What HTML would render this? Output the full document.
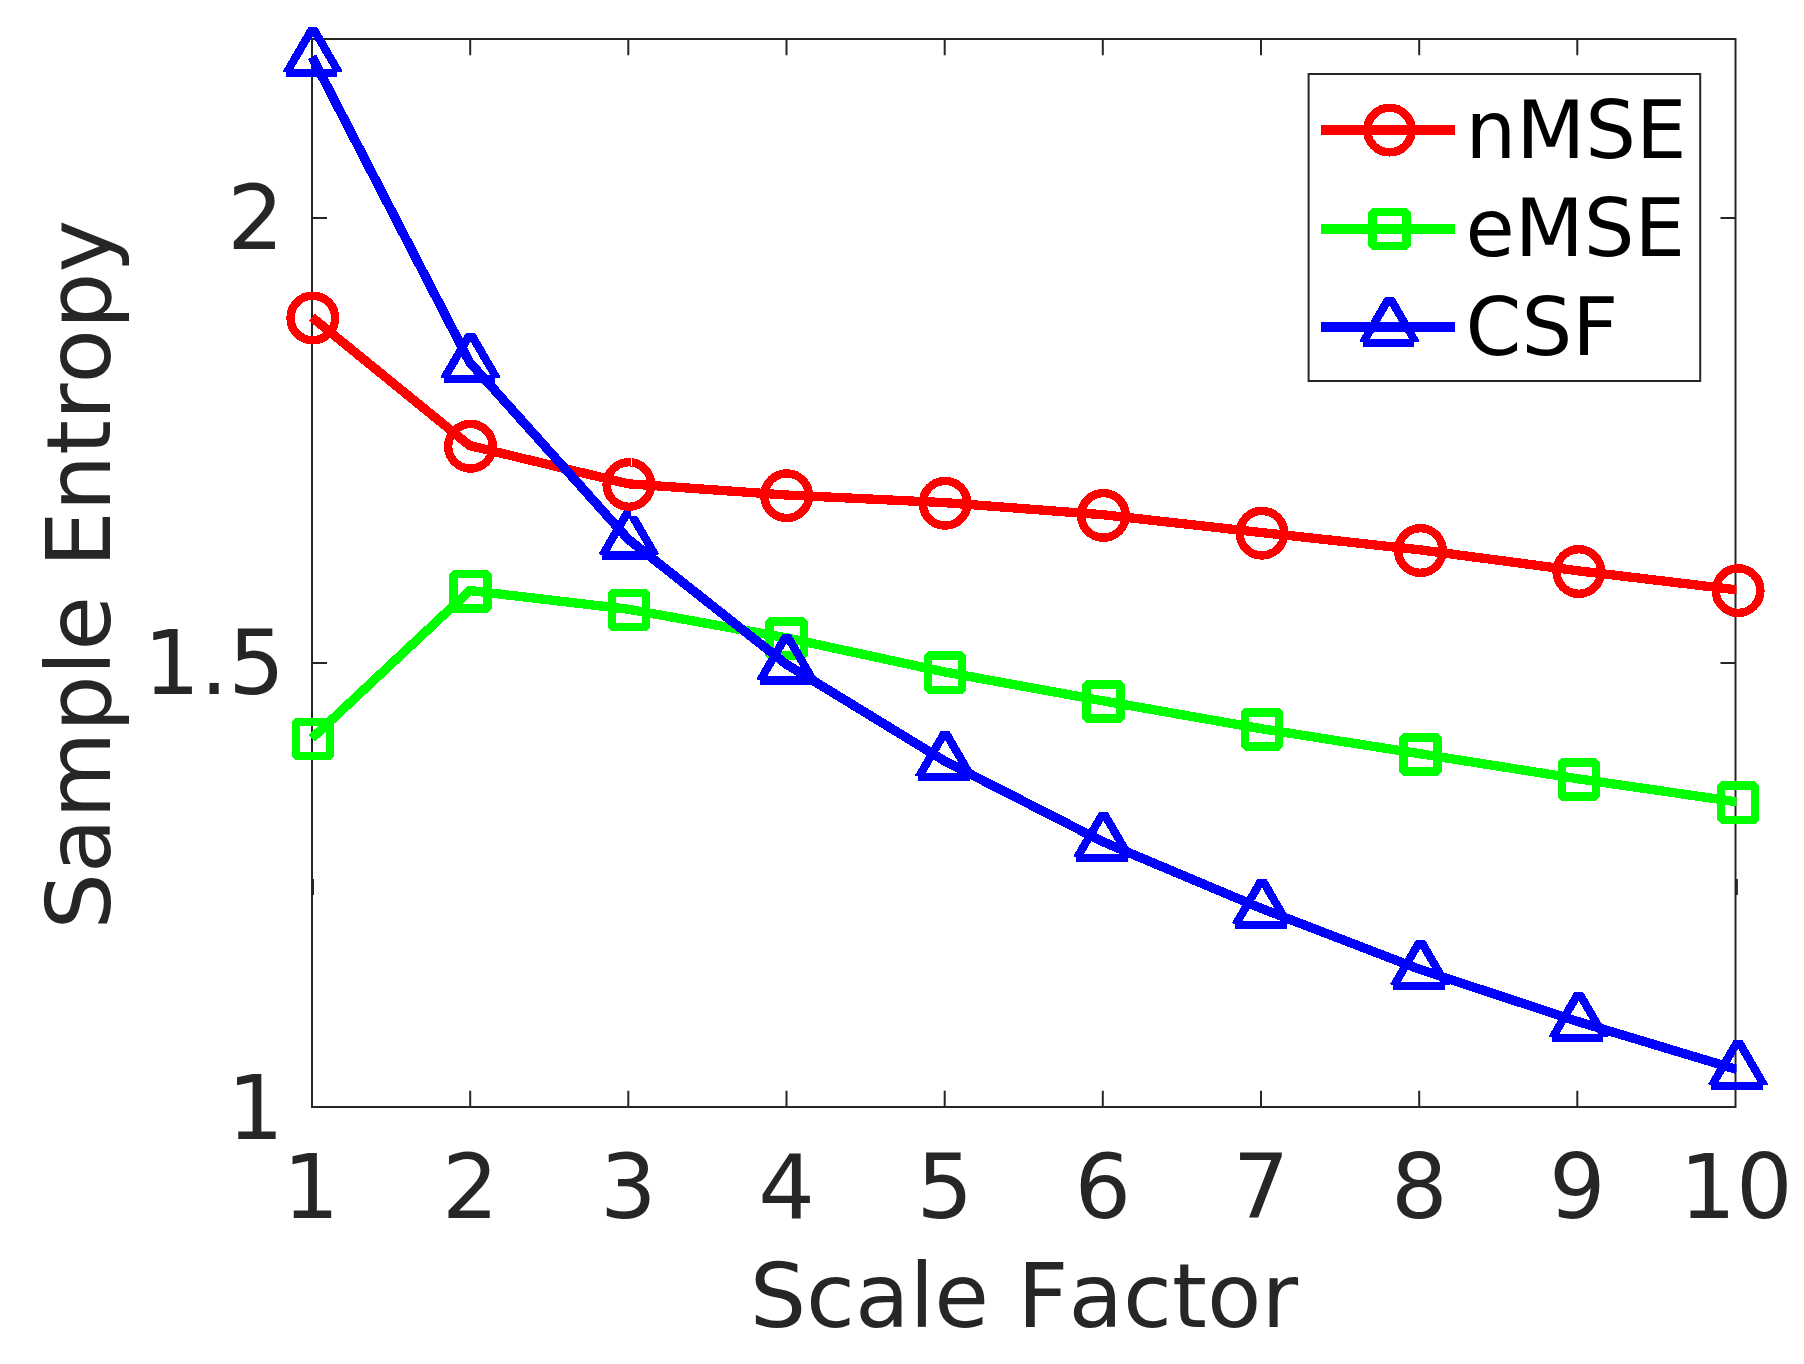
<!DOCTYPE html>
<html lang="en"><head><meta charset="utf-8"><title>Sample Entropy vs Scale Factor</title>
<style>
html,body{margin:0;padding:0;background:#fff;}
body{width:1804px;height:1364px;overflow:hidden;}
svg{display:block;}
text{font-family:"DejaVu Sans","Liberation Sans",sans-serif;font-kerning:none;}
.tk{font-size:89px;fill:#262626;}
.lb{font-size:89px;fill:#262626;}
.lg{font-size:80px;fill:#000;}
</style></head><body>
<svg width="1804" height="1364" viewBox="0 0 1804 1364">
<rect x="0" y="0" width="1804" height="1364" fill="#fff"/>
<g stroke="#262626" stroke-width="2" fill="none" stroke-linecap="butt">
<rect x="312.0" y="39.0" width="1423.5" height="1068.0"/>
<path d="M470.2 1107.0 v-16.2 M470.2 39.0 v16.2"/>
<path d="M628.3 1107.0 v-16.2 M628.3 39.0 v16.2"/>
<path d="M786.5 1107.0 v-16.2 M786.5 39.0 v16.2"/>
<path d="M944.7 1107.0 v-16.2 M944.7 39.0 v16.2"/>
<path d="M1102.8 1107.0 v-16.2 M1102.8 39.0 v16.2"/>
<path d="M1261.0 1107.0 v-16.2 M1261.0 39.0 v16.2"/>
<path d="M1419.2 1107.0 v-16.2 M1419.2 39.0 v16.2"/>
<path d="M1577.3 1107.0 v-16.2 M1577.3 39.0 v16.2"/>
<path d="M312.0 663.0 h15 M1735.5 663.0 h-15"/>
<path d="M312.0 218.0 h15 M1735.5 218.0 h-15"/>
</g>
<rect x="312" y="879" width="2" height="16" fill="#262626"/><rect x="1736" y="879" width="1.9" height="16" fill="#262626"/>
<defs><clipPath id="cp"><rect x="292.0" y="-1.0" width="1444.5" height="1108.0"/></clipPath></defs>
<g shape-rendering="crispEdges">
<polyline clip-path="url(#cp)" points="312.0,317.3 469.7,445.6 628.1,483.8 785.9,495.0 944.3,502.6 1102.6,514.7 1261.2,532.5 1419.6,549.8 1578.0,570.8 1737.3,589.9" fill="none" stroke="#ff0000" stroke-width="9.3" stroke-linejoin="round" stroke-linecap="butt"/>
<g><circle cx="312.8" cy="318.0" r="22.3" fill="none" stroke="#ff0000" stroke-width="8.4"/><circle cx="470.5" cy="446.3" r="22.3" fill="none" stroke="#ff0000" stroke-width="8.4"/><circle cx="628.9" cy="484.5" r="22.3" fill="none" stroke="#ff0000" stroke-width="8.4"/><circle cx="786.7" cy="495.7" r="22.3" fill="none" stroke="#ff0000" stroke-width="8.4"/><circle cx="945.1" cy="503.3" r="22.3" fill="none" stroke="#ff0000" stroke-width="8.4"/><circle cx="1103.4" cy="515.4" r="22.3" fill="none" stroke="#ff0000" stroke-width="8.4"/><circle cx="1262.0" cy="533.2" r="22.3" fill="none" stroke="#ff0000" stroke-width="8.4"/><circle cx="1420.4" cy="550.5" r="22.3" fill="none" stroke="#ff0000" stroke-width="8.4"/><circle cx="1578.8" cy="571.5" r="22.3" fill="none" stroke="#ff0000" stroke-width="8.4"/><circle cx="1738.1" cy="590.6" r="22.3" fill="none" stroke="#ff0000" stroke-width="8.4"/></g>
<polyline clip-path="url(#cp)" points="312.0,738.2 469.7,590.5 628.1,609.2 785.9,637.7 944.3,671.9 1102.6,700.8 1261.2,728.7 1419.6,753.7 1578.0,778.8 1737.3,801.9" fill="none" stroke="#00ff00" stroke-width="9.3" stroke-linejoin="round" stroke-linecap="butt"/>
<g><rect x="295.7" y="721.8" width="34.2" height="34.2" fill="none" stroke="#00ff00" stroke-width="8.4" stroke-linejoin="bevel"/><rect x="453.4" y="574.1" width="34.2" height="34.2" fill="none" stroke="#00ff00" stroke-width="8.4" stroke-linejoin="bevel"/><rect x="611.8" y="592.8" width="34.2" height="34.2" fill="none" stroke="#00ff00" stroke-width="8.4" stroke-linejoin="bevel"/><rect x="769.6" y="621.3" width="34.2" height="34.2" fill="none" stroke="#00ff00" stroke-width="8.4" stroke-linejoin="bevel"/><rect x="928.0" y="655.5" width="34.2" height="34.2" fill="none" stroke="#00ff00" stroke-width="8.4" stroke-linejoin="bevel"/><rect x="1086.3" y="684.4" width="34.2" height="34.2" fill="none" stroke="#00ff00" stroke-width="8.4" stroke-linejoin="bevel"/><rect x="1244.9" y="712.3" width="34.2" height="34.2" fill="none" stroke="#00ff00" stroke-width="8.4" stroke-linejoin="bevel"/><rect x="1403.3" y="737.3" width="34.2" height="34.2" fill="none" stroke="#00ff00" stroke-width="8.4" stroke-linejoin="bevel"/><rect x="1561.7" y="762.4" width="34.2" height="34.2" fill="none" stroke="#00ff00" stroke-width="8.4" stroke-linejoin="bevel"/><rect x="1721.0" y="785.5" width="34.2" height="34.2" fill="none" stroke="#00ff00" stroke-width="8.4" stroke-linejoin="bevel"/></g>
<polyline clip-path="url(#cp)" points="312.0,56.8 469.7,362.3 628.1,539.1 785.9,664.0 944.3,760.8 1102.6,841.6 1261.2,908.4 1419.6,969.3 1578.0,1021.6 1737.3,1069.6" fill="none" stroke="#0000ff" stroke-width="9.3" stroke-linejoin="round" stroke-linecap="butt"/>
<g><path d="M308.4 27.2 L317.2 27.2 L342.7 71.0 L342.1 72.3 L337.4 72.3 L337.4 77.4 L285.8 77.4 L285.8 72.3 L283.5 72.3 L282.9 71.0 Z M312.8 36.0 L332.2 69.0 L293.4 69.0 Z" fill="#0000ff" fill-rule="evenodd"/><path d="M466.1 332.7 L474.9 332.7 L500.4 376.5 L499.8 377.8 L495.1 377.8 L495.1 382.9 L443.5 382.9 L443.5 377.8 L441.2 377.8 L440.6 376.5 Z M470.5 341.5 L489.9 374.5 L451.1 374.5 Z" fill="#0000ff" fill-rule="evenodd"/><path d="M624.4 509.5 L633.4 509.5 L658.8 553.3 L658.2 554.6 L653.5 554.6 L653.5 559.7 L601.9 559.7 L601.9 554.6 L599.6 554.6 L599.0 553.3 Z M628.9 518.3 L648.3 551.3 L609.5 551.3 Z" fill="#0000ff" fill-rule="evenodd"/><path d="M782.2 634.4 L791.2 634.4 L816.6 678.2 L816.0 679.5 L811.3 679.5 L811.3 684.6 L759.7 684.6 L759.7 679.5 L757.4 679.5 L756.8 678.2 Z M786.7 643.2 L806.1 676.2 L767.3 676.2 Z" fill="#0000ff" fill-rule="evenodd"/><path d="M940.6 731.2 L949.6 731.2 L975.0 775.0 L974.4 776.3 L969.7 776.3 L969.7 781.4 L918.1 781.4 L918.1 776.3 L915.8 776.3 L915.2 775.0 Z M945.1 740.0 L964.5 773.0 L925.7 773.0 Z" fill="#0000ff" fill-rule="evenodd"/><path d="M1099.0 812.0 L1107.9 812.0 L1133.3 855.8 L1132.7 857.1 L1128.0 857.1 L1128.0 862.2 L1076.4 862.2 L1076.4 857.1 L1074.1 857.1 L1073.5 855.8 Z M1103.4 820.8 L1122.8 853.8 L1084.0 853.8 Z" fill="#0000ff" fill-rule="evenodd"/><path d="M1257.5 878.8 L1266.5 878.8 L1291.9 922.6 L1291.3 923.9 L1286.6 923.9 L1286.6 929.0 L1235.0 929.0 L1235.0 923.9 L1232.7 923.9 L1232.1 922.6 Z M1262.0 887.6 L1281.4 920.6 L1242.6 920.6 Z" fill="#0000ff" fill-rule="evenodd"/><path d="M1416.0 939.7 L1424.9 939.7 L1450.3 983.5 L1449.7 984.8 L1445.0 984.8 L1445.0 989.9 L1393.4 989.9 L1393.4 984.8 L1391.1 984.8 L1390.5 983.5 Z M1420.4 948.5 L1439.8 981.5 L1401.0 981.5 Z" fill="#0000ff" fill-rule="evenodd"/><path d="M1574.3 992.0 L1583.2 992.0 L1608.7 1035.8 L1608.1 1037.1 L1603.4 1037.1 L1603.4 1042.2 L1551.8 1042.2 L1551.8 1037.1 L1549.5 1037.1 L1548.9 1035.8 Z M1578.8 1000.8 L1598.2 1033.8 L1559.4 1033.8 Z" fill="#0000ff" fill-rule="evenodd"/><path d="M1733.6 1040.0 L1742.5 1040.0 L1768.0 1083.8 L1767.4 1085.1 L1762.7 1085.1 L1762.7 1090.2 L1711.1 1090.2 L1711.1 1085.1 L1708.8 1085.1 L1708.2 1083.8 Z M1738.1 1048.8 L1757.5 1081.8 L1718.7 1081.8 Z" fill="#0000ff" fill-rule="evenodd"/></g>
<rect x="631" y="505" width="14" height="11.4" fill="#fff"/>
<circle cx="628.9" cy="484.5" r="22.3" fill="none" stroke="#ff0000" stroke-width="8.4"/>
<rect x="630.9" y="457" width="0.9" height="9" fill="#fff"/>
</g>
<text class="tk" x="311.1" y="1218.2" text-anchor="middle">1</text>
<text class="tk" x="470.2" y="1218.2" text-anchor="middle">2</text>
<text class="tk" x="628.3" y="1218.2" text-anchor="middle">3</text>
<text class="tk" x="786.5" y="1218.2" text-anchor="middle">4</text>
<text class="tk" x="944.7" y="1218.2" text-anchor="middle">5</text>
<text class="tk" x="1102.8" y="1218.2" text-anchor="middle">6</text>
<text class="tk" x="1261.0" y="1218.2" text-anchor="middle">7</text>
<text class="tk" x="1419.2" y="1218.2" text-anchor="middle">8</text>
<text class="tk" x="1577.3" y="1218.2" text-anchor="middle">9</text>
<text class="tk" x="1736.0" y="1218.2" text-anchor="middle">10</text>
<text class="tk" x="283.9" y="1139.0" text-anchor="end">1</text>
<text class="tk" x="285" y="694.0" text-anchor="end">1.5</text>
<text class="tk" x="283.9" y="249.1" text-anchor="end">2</text>
<text class="lb" x="1023.8" y="1326.5" text-anchor="middle">Scale Factor</text>
<text class="lb" transform="translate(109.6 929.6) rotate(-90)" text-anchor="start">Sample Entropy</text>
<rect x="1308.6" y="74" width="391.6" height="307" fill="#fff" stroke="#262626" stroke-width="2"/>
<g shape-rendering="crispEdges"><path d="M1321.3 130.1 H1455.3" stroke="#ff0000" stroke-width="9.3" fill="none"/>
<circle cx="1389.5" cy="130.1" r="22.3" fill="none" stroke="#ff0000" stroke-width="8.4"/></g>
<text class="lg" x="1465.6" y="158.2">nMSE</text>
<g shape-rendering="crispEdges"><path d="M1321.3 229.1 H1455.3" stroke="#00ff00" stroke-width="9.3" fill="none"/>
<rect x="1372.4" y="212.0" width="34.2" height="34.2" fill="none" stroke="#00ff00" stroke-width="8.4" stroke-linejoin="bevel"/></g>
<text class="lg" x="1465.6" y="256.4">eMSE</text>
<g shape-rendering="crispEdges"><path d="M1321.3 327.0 H1455.3" stroke="#0000ff" stroke-width="9.3" fill="none"/>
<path d="M1385.0 296.7 L1394.0 296.7 L1419.4 340.5 L1418.8 341.8 L1414.1 341.8 L1414.1 346.9 L1362.5 346.9 L1362.5 341.8 L1360.2 341.8 L1359.6 340.5 Z M1389.5 305.5 L1408.9 338.5 L1370.1 338.5 Z" fill="#0000ff" fill-rule="evenodd"/></g>
<text class="lg" x="1465.6" y="354.5">CSF</text>
</svg></body></html>
